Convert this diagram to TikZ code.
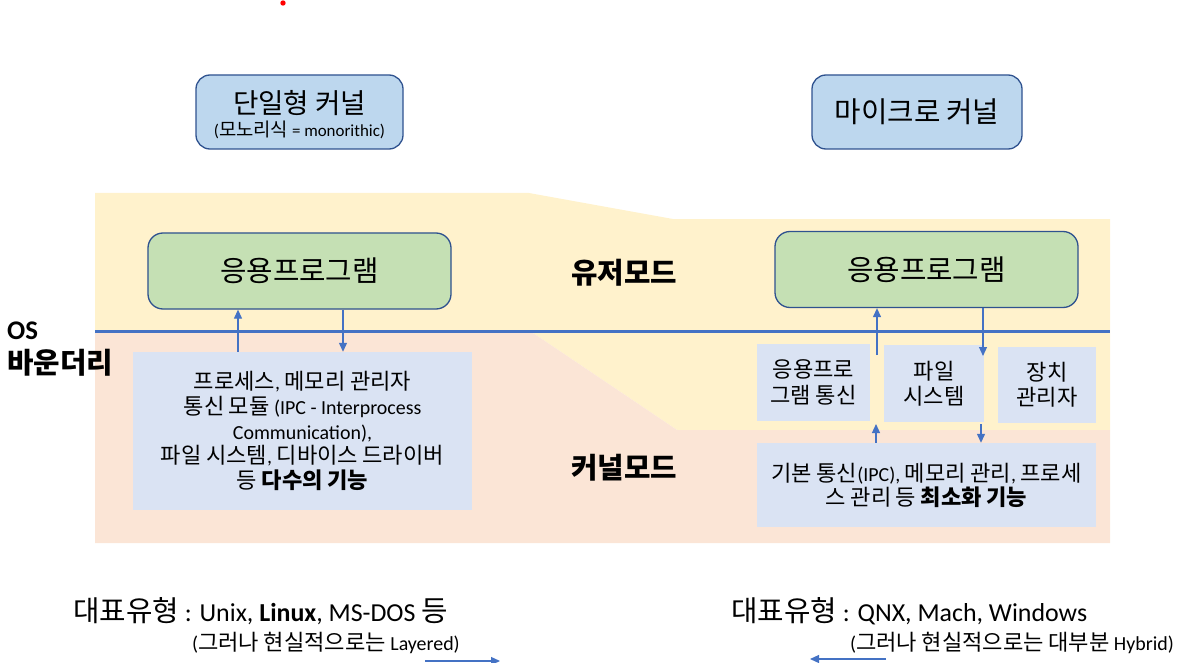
\documentclass[tikz,border=0pt]{standalone}
\usepackage{fontspec}
\setmainfont{Carlito}
\newfontfamily\krfont[Scale=1.11]{Noto Sans CJK KR}
\usetikzlibrary{arrows.meta}
\XeTeXinterchartokenstate=1
\newXeTeXintercharclass\krclass
\newcount\krcnt
\krcnt="AC00
\loop
  \XeTeXcharclass\krcnt=\krclass
  \advance\krcnt by 1
\ifnum\krcnt<"D7A4 \repeat
\XeTeXinterchartoks 0 \krclass = {\begingroup\krfont}
\XeTeXinterchartoks 4095 \krclass = {\begingroup\krfont}
\XeTeXinterchartoks \krclass 0 = {\endgroup}
\XeTeXinterchartoks \krclass 4095 = {\endgroup}
\definecolor{yellowbg}{HTML}{FFF2CC}
\definecolor{pinkbg}{HTML}{FBE5D6}
\definecolor{kblue}{HTML}{DAE3F3}
\definecolor{appgreen}{HTML}{C5E0B4}
\definecolor{topblue}{HTML}{BDD7EE}
\definecolor{bordblue}{HTML}{2F528F}
\definecolor{lineblue}{HTML}{4472C4}
\tikzset{
  topbox/.style={draw=bordblue, line width=1.3bp, fill=topblue, rounded corners=14bp,
    minimum width=207bp, minimum height=74bp, inner sep=0pt},
  appbox/.style={draw=bordblue, line width=1.3bp, fill=appgreen, rounded corners=15bp,
    minimum width=303bp, minimum height=76bp, inner sep=0pt,
    font={\fontsize{26}{30}\selectfont}},
  kbox/.style={fill=kblue, inner sep=0pt, align=center},
  arr/.style={draw=lineblue, line width=1.2bp, -{Triangle[length=9bp,width=8bp]}},
  txt/.style={inner sep=0pt, align=center, text=black},
  modetxt/.style={txt, font={\fontsize{26}{30}\selectfont\bfseries}},
}
\begin{document}
\begin{tikzpicture}[x=1bp,y=-1bp]
\useasboundingbox (0,0) rectangle (1187,663);
% backgrounds
\fill[yellowbg] (95,193) -- (529,193) -- (673,219) -- (1110,219) -- (1110,430) -- (677,430) -- (533,333) -- (95,333) -- cycle;
\fill[pinkbg] (95,333) -- (533,333) -- (677,430) -- (1110,430) -- (1110,543) -- (95,543) -- cycle;
\coordinate (bndL) at (95,331.5);
\coordinate (bndR) at (1110,331.5);
\draw[lineblue, line width=3.3bp] (bndL) -- (bndR);
% red dot
\fill[red] (283,3) circle (2.7bp);
% top boxes
\node[topbox] (mono) at (299.5,112) {};
\node[txt, font={\fontsize{25}{28}\selectfont}] (monoT) at (299.5,103.5) {단일형 커널};
\node[txt, font={\fontsize{17}{20}\selectfont}] (monoS) at (299.5,129.5) {(모노리식 = monorithic)};
\node[topbox, minimum width=210bp, font={\fontsize{26}{30}\selectfont}] (micro) at (917,112) {마이크로 커널};
% app boxes
\node[appbox] (appL) at (299.5,271) {응용프로그램};
\node[appbox] (appR) at (926.5,269.5) {응용프로그램};
% mode labels
\node[modetxt] (user) at (624,273) {유저모드};
\node[modetxt] (kern) at (624,468) {커널모드};
\node[txt, anchor=west, font={\fontsize{27}{30}\selectfont\bfseries}] (osT) at (7,331) {OS};
\node[txt, anchor=west, font={\fontsize{26}{30}\selectfont\bfseries}] (bdT) at (7,363) {바운더리};
% kernel boxes
\node[kbox, minimum width=339bp, minimum height=158bp, font={\fontsize{20}{24.7}\selectfont}] (kL) at (302.5,431)
  {프로세스, 메모리 관리자\\통신 모듈 (IPC - Interprocess\\Communication),\\파일 시스템, 디바이스 드라이버\\등 {\bfseries 다수의 기능}};
\node[kbox, minimum width=113bp, minimum height=77bp, font={\fontsize{20}{25.5}\selectfont}] (ipc) at (813.5,382.5) {응용프로\\그램 통신};
\node[kbox, minimum width=100bp, minimum height=77bp, font={\fontsize{20}{25.5}\selectfont}] (fs) at (934,383.5) {파일\\시스템};
\node[kbox, minimum width=98bp, minimum height=76bp, font={\fontsize{20}{25.5}\selectfont}] (dev) at (1047,385) {장치\\관리자};
\node[kbox, minimum width=339bp, minimum height=84bp, font={\fontsize{20}{24}\selectfont}] (kR) at (926.5,485)
  {기본 통신(IPC), 메모리 관리, 프로세\\스 관리 등 {\bfseries 최소화 기능}};
% arrows left
\coordinate (xL1) at (238,0);
\coordinate (xL2) at (343,0);
\draw[arr] (kL.north -| xL1) -- (appL.south -| xL1);
\draw[arr] (appL.south -| xL2) -- (kL.north -| xL2);
% arrows right
\coordinate (r1s) at (877,355);
\coordinate (r2e) at (983,356);
\coordinate (r3e) at (876,424);
\coordinate (r4s) at (981,424);
\draw[arr] (r1s) -- (appR.south -| r1s);
\draw[arr] (appR.south -| r2e) -- (r2e);
\draw[arr] (kR.north -| r3e) -- (r3e);
\draw[arr] (r4s) -- (kR.north -| r4s);
% bottom texts
\node[txt, anchor=west, font={\fontsize{26}{30}\selectfont}] (typL) at (73,611) {대표유형 : Unix, {\bfseries Linux}, MS-DOS 등};
\node[txt, anchor=west, font={\fontsize{20}{24}\selectfont}] (typL2) at (192,643) {(그러나 현실적으로는 Layered)};
\node[txt, anchor=west, font={\fontsize{26}{30}\selectfont}] (typR) at (731,611) {대표유형 : QNX, Mach, Windows};
\node[txt, anchor=west, font={\fontsize{20}{24}\selectfont}] (typR2) at (850,643) {(그러나 현실적으로는 대부분 Hybrid)};
% bottom arrows
\coordinate (bl1) at (425,661);
\coordinate (bl2) at (500,661);
\coordinate (br1) at (886,659);
\coordinate (br2) at (810,659);
\draw[arr] (bl1) -- (bl2);
\draw[arr] (br1) -- (br2);
\end{tikzpicture}
\end{document}
